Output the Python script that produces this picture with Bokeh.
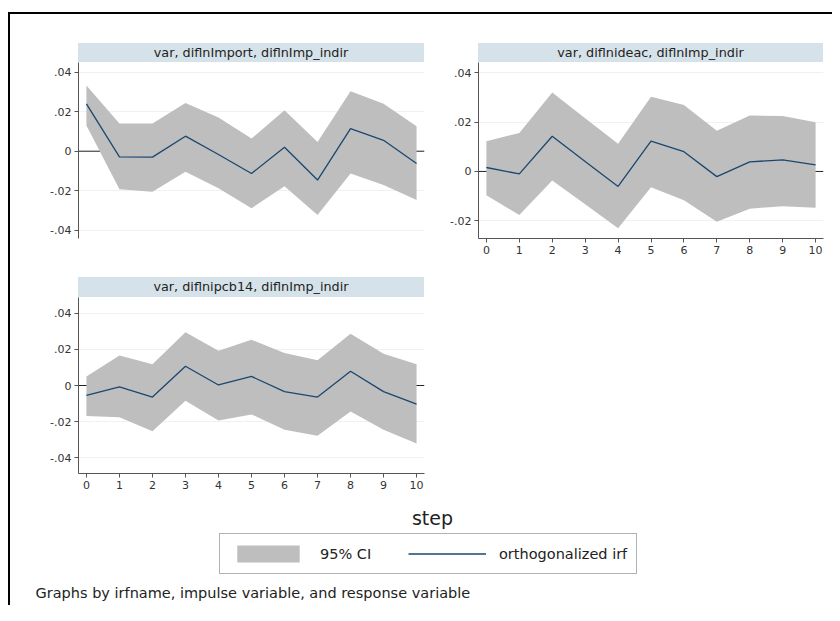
from bokeh.plotting import figure
from bokeh.layouts import column, row
from bokeh.models import (Range1d, FixedTicker, Span, Label, Legend, LegendItem, Spacer, Div)
from bokeh.embed import file_html
from bokeh.resources import INLINE

steps = list(range(11))

title1 = "var, diflnImport, diflnImp_indir"
title2 = "var, diflnideac, diflnImp_indir"
title3 = "var, diflnipcb14, diflnImp_indir"

irf1 = [0.0240, -0.0029, -0.0030, 0.0076, -0.0017, -0.0113, 0.0020, -0.0146, 0.0114, 0.0055, -0.0062]
lo1 = [0.0130, -0.0193, -0.0205, -0.0104, -0.0188, -0.0289, -0.0177, -0.0323, -0.0113, -0.0171, -0.0247]
hi1 = [0.0333, 0.0140, 0.0140, 0.0244, 0.0170, 0.0064, 0.0207, 0.0047, 0.0304, 0.0240, 0.0126]

irf2 = [0.0016, -0.0010, 0.0143, 0.0040, -0.0061, 0.0123, 0.0080, -0.0021, 0.0039, 0.0047, 0.0027]
lo2 = [-0.0097, -0.0177, -0.0037, -0.0133, -0.0230, -0.0064, -0.0117, -0.0204, -0.0151, -0.0141, -0.0147]
hi2 = [0.0123, 0.0156, 0.0320, 0.0216, 0.0112, 0.0303, 0.0270, 0.0165, 0.0227, 0.0225, 0.0200]

irf3 = [-0.0054, -0.0008, -0.0064, 0.0106, 0.0003, 0.0050, -0.0034, -0.0064, 0.0079, -0.0034, -0.0103]
lo3 = [-0.0168, -0.0176, -0.0252, -0.0084, -0.0193, -0.0160, -0.0244, -0.0277, -0.0143, -0.0244, -0.0320]
hi3 = [0.0050, 0.0165, 0.0118, 0.0294, 0.0192, 0.0252, 0.0180, 0.0140, 0.0286, 0.0176, 0.0118]

yticks13 = [-0.04, -0.02, 0, 0.02, 0.04]
yticks2 = [-0.02, 0, 0.02, 0.04]
ylabels = {-0.04: "-.04", -0.02: "-.02", 0: "0", 0.02: ".02", 0.04: ".04"}

FONT = "DejaVu Sans"
BAND = "#bebebe"
LINE = "#1a476f"
STRIP = "#d6e2e9"


def strip(title, width, height, mtop, mleft):
    return Div(text=title, width=width, height=height, margin=(mtop, 0, 0, mleft),
               styles={"background-color": STRIP, "text-align": "center",
                       "font-family": FONT, "font-size": "12.8px",
                       "line-height": "%dpx" % height, "color": "#222222",
                       "overflow": "hidden", "white-space": "nowrap"})


def panel(irf, lo, hi, yr, yticks, width, height, mb, show_x):
    p = figure(width=width, height=height, output_backend="svg", toolbar_location=None,
               x_range=Range1d(-0.24, 10.24), y_range=Range1d(*yr),
               min_border_left=mb[0], min_border_right=mb[1],
               min_border_top=mb[2], min_border_bottom=mb[3])
    p.outline_line_color = None
    p.background_fill_color = "white"
    p.border_fill_color = "white"
    p.xgrid.grid_line_color = None
    p.ygrid.grid_line_color = "#eef2f4"
    p.ygrid.ticker = FixedTicker(ticks=yticks)
    zero = Span(location=0, dimension="width", line_color="#222222", line_width=1, level="underlay")
    p.add_layout(zero)
    p.varea(x=steps, y1=lo, y2=hi, fill_color=BAND, fill_alpha=1.0)
    p.line(x=steps, y=irf, line_color=LINE, line_width=1.3)
    ya = p.yaxis[0]
    ya.ticker = FixedTicker(ticks=yticks)
    ya.major_label_overrides = ylabels
    ya.minor_tick_line_color = None
    ya.major_tick_out = 4
    ya.major_tick_in = 0
    ya.major_label_standoff = 3
    ya.major_label_text_font = FONT
    ya.major_label_text_font_size = "11px"
    ya.major_label_text_color = "#333333"
    ya.axis_line_color = "#555555"
    ya.major_tick_line_color = "#555555"
    xa = p.xaxis[0]
    if show_x:
        xa.ticker = FixedTicker(ticks=steps)
        xa.minor_tick_line_color = None
        xa.major_tick_out = 4
        xa.major_tick_in = 0
        xa.major_label_standoff = 3
        xa.major_label_text_font = FONT
        xa.major_label_text_font_size = "11px"
        xa.major_label_text_color = "#333333"
        xa.axis_line_color = "#555555"
        xa.major_tick_line_color = "#555555"
    else:
        xa.visible = False
    return p


p1 = panel(irf1, lo1, hi1, (-0.0442, 0.0449), yticks13, 430, 200, (68, 16, 0, 24), False)
p2 = panel(irf2, lo2, hi2, (-0.0272, 0.0442), yticks2, 392, 200, (38, 9, 0, 24), True)
p3 = panel(irf3, lo3, hi3, (-0.0486, 0.0486), yticks13, 430, 203, (68, 16, 0, 27), True)

c1 = column(strip(title1, 346, 19, 29, 68), p1)
c2 = column(strip(title2, 345, 19, 29, 38), p2)
c3 = column(strip(title3, 346, 20, 15, 68), p3)

pb = figure(width=822, height=105, output_backend="svg", toolbar_location=None,
            x_range=Range1d(100, 101), y_range=Range1d(100, 101),
            min_border_left=0, min_border_right=0, min_border_top=0, min_border_bottom=0)
pb.axis.visible = False
pb.grid.visible = False
pb.outline_line_color = None
r_band = pb.varea(x=steps, y1=lo3, y2=hi3, fill_color=BAND)
r_line = pb.line(x=steps, y=irf3, line_color=LINE, line_width=1.3)
leg = Legend(items=[LegendItem(label="95% CI", renderers=[r_band]),
                    LegendItem(label="orthogonalized irf", renderers=[r_line])],
             orientation="horizontal", location=(209, 31))
leg.glyph_width = 78
leg.glyph_height = 21
leg.label_standoff = 13
leg.label_width = 56
leg.spacing = 32
leg.padding = 9
leg.margin = 0
leg.label_text_font = FONT
leg.label_text_font_size = "14.5px"
leg.label_text_color = "#222222"
leg.border_line_color = "#666666"
leg.border_line_width = 1
leg.background_fill_color = "white"
pb.add_layout(leg, "center")
pb.add_layout(Label(x=422, y=88, x_units="screen", y_units="screen", text="step",
                    text_align="center", text_baseline="middle", text_font=FONT,
                    text_font_size="19px", text_color="#222222"))
pb.add_layout(Label(x=25, y=13, x_units="screen", y_units="screen",
                    text="Graphs by irfname, impulse variable, and response variable",
                    text_align="left", text_baseline="middle", text_font=FONT,
                    text_font_size="14.5px", text_color="#222222"))

layout = column(row(c1, c2), row(c3, Spacer(width=392, height=238)), pb,
                styles={"border-top": "2px solid black", "border-left": "2px solid black",
                        "margin-top": "12px", "margin-left": "8px"})

open("out.html", "w").write(file_html(layout, INLINE))
